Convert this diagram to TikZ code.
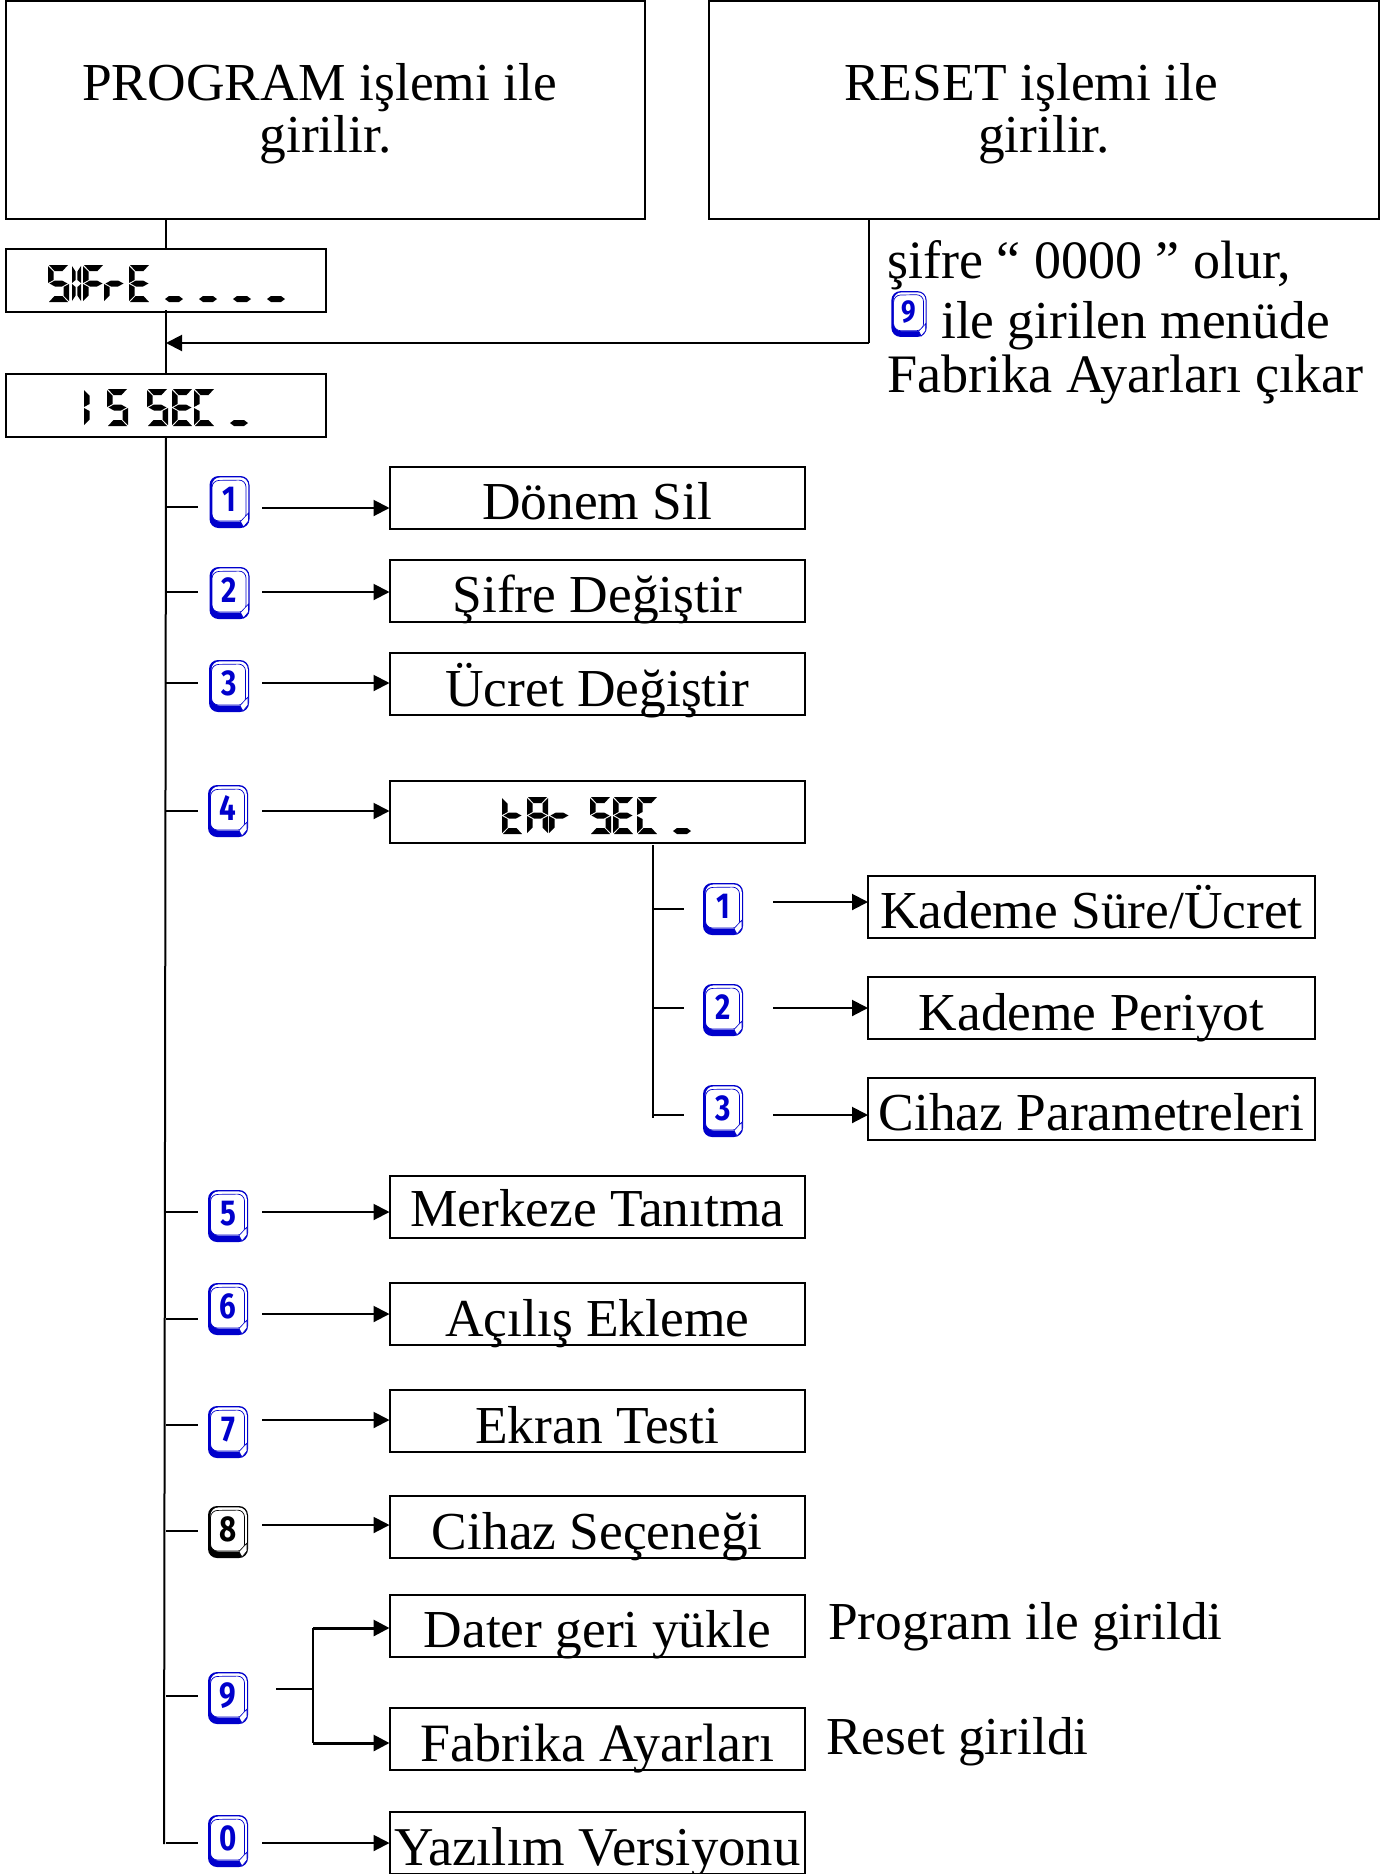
\documentclass[tikz,border=0pt]{standalone}
\usepackage{fontspec}
\setmainfont{Liberation Serif}
\newfontfamily\keyfont{Fira Sans}
\usetikzlibrary{arrows.meta,calc}
\definecolor{keyblue}{HTML}{0000CC}
\newcommand\bigfont{\fontsize{53.4}{52}\selectfont}
\newcommand\sized[1]{\fontsize{#1}{52}\selectfont}
% LCD segments in a 21 x 37 cell
\newcommand\sgA{\fill (1,0)--(20,0)--(14.5,6)--(6.5,6)--cycle;}
\newcommand\sgG{\fill (1.5,18.5)--(7,15.5)--(14,15.5)--(19.5,18.5)--(14,21.5)--(7,21.5)--cycle;}
\newcommand\sgD{\fill (1,37)--(20,37)--(14.5,31)--(6.5,31)--cycle;}
\newcommand\sgF{\fill (0,1)--(5.5,6.5)--(5.5,15)--(0,18)--cycle;}
\newcommand\sgE{\fill (0,36)--(5.5,30.5)--(5.5,22)--(0,19)--cycle;}
\newcommand\sgB{\fill (21,1)--(15.5,6.5)--(15.5,15)--(21,18)--cycle;}
\newcommand\sgC{\fill (21,36)--(15.5,30.5)--(15.5,22)--(21,19)--cycle;}
\newcommand\sgU{\fill (0,34)--(4,31)--(14,31)--(18,34)--(14,37)--(4,37)--cycle;}
\newcommand\lcd[3]{\begin{scope}[shift={(#1,#2)}]#3\end{scope}}
\newcommand\gS{\sgA\sgF\sgG\sgC\sgD}
\newcommand\gE{\sgA\sgF\sgG\sgE\sgD}
\newcommand\gC{\sgA\sgF\sgE\sgD}
\newcommand\gF{\sgA\sgF\sgG\sgE}
\newcommand\gr{\sgG\sgE}
\newcommand\gt{\sgF\sgE\sgG\sgD}
\newcommand\gAA{\sgA\sgF\sgB\sgG\sgE\sgC}
% key cap: name, x, y, digit, colour, scale
\newcommand\keycap[6]{%
  \begin{scope}[shift={(#2,#3)},scale=#6,transform shape]
    \fill[#5,rounded corners=9pt] (-20,-26) rectangle (20,26);
    \fill[white,rounded corners=8pt] (-17.5,-24.6) rectangle (18.8,19.5);
    \draw[#5,line width=.7pt,rounded corners=7pt] (-17.5,-21.5) -- (-17.5,19) -- (16.5,19) -- (16.5,-22) -- cycle;
    \fill[white,draw=#5,line width=.6pt] (11,19.5) -- (19,11) -- (19,19) -- (14,25) -- cycle;
    \node[keydigit,text=#5,xscale=.82] (#1) at (0,-2.5) {#4};
  \end{scope}}
% name, left, top, width, text height, text
\newcommand\boxrow[6]{\node[bx,minimum width=#4 pt,text height=#5pt,text depth={62pt-#5pt}] (#1) at (#2,#3) {#6};}
\tikzset{
  x=1pt,y=-1pt,
  ln/.style={line width=2pt,draw=black},
  arr/.style={line width=2pt,draw=black,-{Triangle[length=16pt,width=16pt]}},
  arrb/.style={line width=3pt,draw=black,-{Triangle[length=16pt,width=16pt]}},
  bx/.style={draw=black,line width=2pt,anchor=north west,inner xsep=0pt,inner ysep=0pt,outer sep=0pt,
    align=center,font=\bigfont},
  bigbox/.style={draw=black,line width=2pt,anchor=north west,outer sep=0pt,align=center,font=\bigfont,minimum height=218pt},
  lcdbox/.style={draw=black,line width=2pt,anchor=north west,outer sep=0pt,minimum width=320pt,minimum height=63pt,
    text opacity=0,font=\ttfamily\fontsize{30}{30}\selectfont},
  keydigit/.style={font=\keyfont\bfseries\fontsize{36}{36}\selectfont,inner sep=0pt},
  plain/.style={anchor=base west,inner sep=0pt,font=\bigfont},
}
\begin{document}
\begin{tikzpicture}
\useasboundingbox[fill=white] (0,0) rectangle (1394,1874);
% top boxes
\node[bigbox,minimum width=639pt] (prog) at (6,1) {\rule{0pt}{44pt}PROGRAM işlemi ile\hspace*{12pt}\\girilir.};
\node[bigbox,minimum width=670pt] (reset) at (709,1) {\rule{0pt}{44pt}RESET işlemi ile\hspace*{26pt}\\girilir.};
% LCD boxes
\node[lcdbox] (sifre) at (6,249) {SIFrE ....};
\node[lcdbox] (sec) at (6,374) {15 SEC .};
% LCD glyphs
\lcd{48}{265}{\gS}
\lcd{72}{265}{\begin{scope}[xscale=.65]\sgF\sgE\end{scope}}
\lcd{67.35}{265}{\begin{scope}[xscale=.65]\sgB\sgC\end{scope}}
\lcd{83}{265}{\gF}
\lcd{104}{265}{\gr}
\lcd{129}{265}{\gE}
\foreach \ux in {165,199,233,267}{\lcd{\ux}{265}{\sgU}}
\lcd{84}{389}{\sgF\sgE}
\lcd{107}{389}{\gS}
\lcd{147}{389}{\gS}
\lcd{172}{389}{\gE}
\lcd{194}{389}{\gC}
\lcd{230}{389}{\sgU}
% menu boxes
\boxrow{d1}{389.5}{467}{415.5}{52}{Dönem Sil}
\boxrow{d2}{389.5}{560}{415.5}{52}{Şifre Değiştir}
\boxrow{d3}{389.5}{653}{415.5}{53}{Ücret Değiştir}
\node[lcdbox,minimum width=415.5pt,minimum height=62pt] (d4) at (389.5,781) {tAr SEC .};
\lcd{502}{797}{\gt}
\lcd{527}{797}{\gAA}
\lcd{549}{797}{\gr}
\lcd{590}{797}{\gS}
\lcd{613}{797}{\gE}
\lcd{637}{797}{\gC}
\lcd{673}{797}{\sgU}
\boxrow{e1}{868}{876}{447}{52}{Kademe Süre/Ücret}
\boxrow{e2}{868}{977}{447}{53}{Kademe Periyot}
\boxrow{e3}{868}{1078}{447}{52}{Cihaz Parametreleri}
\boxrow{d5}{389.5}{1176}{415.5}{50}{Merkeze Tanıtma}
\boxrow{d6}{389.5}{1283}{415.5}{53}{Açılış Ekleme}
\boxrow{d7}{389.5}{1390}{415.5}{53}{Ekran Testi}
\boxrow{d8}{389.5}{1496}{415.5}{53}{Cihaz Seçeneği}
\boxrow{d9a}{389.5}{1595}{415.5}{52}{Dater geri yükle}
\boxrow{d9b}{389.5}{1708}{415.5}{53}{\sized{54}Fabrika Ayarları}
\boxrow{d0}{389.5}{1812}{415.5}{53}{\sized{54.7}Yazılım Versiyonu}
% free text
\node[plain] (t1) at (887,278) {\sized{54}şifre “ 0000 ” olur,};
\node[plain] (t2) at (941,338) {ile girilen menüde};
\node[plain] (t3) at (887,392) {\sized{54.2}Fabrika Ayarları çıkar};
\node[plain] (t4) at (828,1639) {Program ile girildi};
\node[plain] (t5) at (826,1754) {Reset girildi};
% keys
\keycap{k1}{229.5}{502}{1}{keyblue}{1}
\keycap{k2}{229.5}{593}{2}{keyblue}{1}
\keycap{k3}{229}{686}{3}{keyblue}{1}
\keycap{k4}{228}{811}{4}{keyblue}{1}
\keycap{k5}{228}{1216}{5}{keyblue}{1}
\keycap{k6}{228}{1309}{6}{keyblue}{1}
\keycap{k7}{228}{1432}{7}{keyblue}{1}
\keycap{k8}{228}{1532}{8}{black}{1}
\keycap{k9}{228}{1698}{9}{keyblue}{1}
\keycap{k0}{228}{1841}{0}{keyblue}{1}
\keycap{m1}{723}{909}{1}{keyblue}{1}
\keycap{m2}{723}{1010}{2}{keyblue}{1}
\keycap{m3}{723}{1111}{3}{keyblue}{1}
\keycap{r9}{909}{314}{9}{keyblue}{.88}
% trunk
\coordinate (tb) at (164,1844);
\coordinate (tr) at (166,343);
\coordinate (progx) at (166,219);
\draw[ln] (progx) -- (progx |- sifre.north);
\draw[ln] (166,310) -- (166,375);
\draw[ln] (sec.south -| tr) -- (tb);
% reset feed
\coordinate (rs) at (869,219);
\draw[ln] (rs) -- (869,343);
\draw[arr] (869,343) -- (tr);
% main rows
\foreach \n/\sy/\ay/\b in {1/507/508/d1,2/592/592/d2,3/683/683/d3,4/811/811/d4,5/1212/1212/d5,6/1319/1314/d6,7/1425/1420/d7,8/1531/1525/d8,0/1843/1843/d0}{
  \coordinate (s\n) at (198,\sy);
  \coordinate (a\n) at (262,\ay);
  \draw[ln] (s\n -| tr) -- (s\n);
  \draw[arr] (a\n) -- (a\n -| \b.west);
}
% key 9 row
\coordinate (s9) at (198,1696);
\draw[ln] (s9 -| tr) -- (s9);
\coordinate (a9) at (276,1689);
\coordinate (br) at (313,1689);
\draw[ln] (a9) -- (br);
\coordinate (brt) at (313,1628);
\coordinate (brb) at (313,1743);
\draw[ln] (brt) -- (brb);
\draw[arrb] (brt) -- (brt -| d9a.west);
\draw[arrb] (brb) -- (brb -| d9b.west);
% sub rows
\coordinate (st) at (653,845);
\coordinate (sb) at (653,1118);
\draw[ln] (st) -- (sb);
\foreach \n/\sy/\ay/\b in {1/909/902/e1,2/1008/1008/e2,3/1115/1115/e3}{
  \coordinate (u\n) at (684,\sy);
  \coordinate (v\n) at (773,\ay);
  \draw[ln] (u\n -| st) -- (u\n);
  \draw[arr] (v\n) -- (v\n -| \b.west);
}
\end{tikzpicture}
\end{document}
